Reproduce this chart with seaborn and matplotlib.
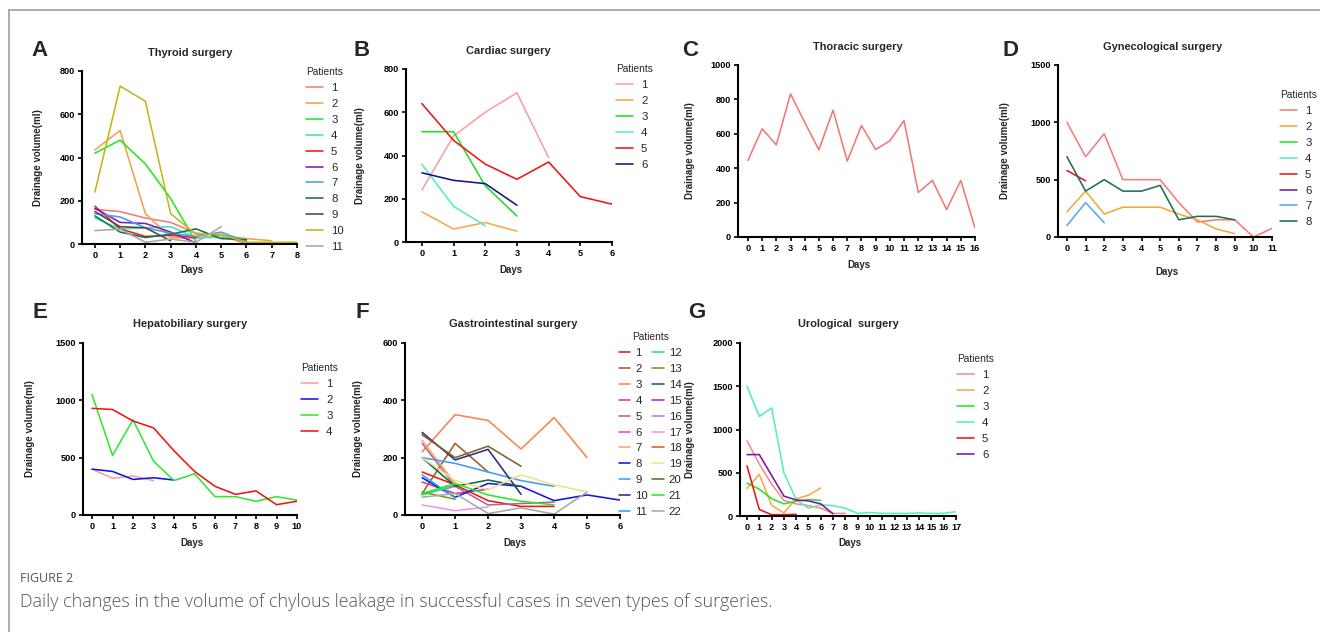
import matplotlib
matplotlib.use("Agg")
import matplotlib.pyplot as plt
import pandas as pd
import seaborn as sns
from matplotlib.lines import Line2D

# ---------------- data ----------------
thyroid_vals = [
    [160, 150, 120, 100, 50, 40, 0],
    [435, 525, 140, 30, 25, 40, 25, 15],
    [420, 480, 370, 210, 10],
    [120, 70, 75, 80, 30, 30, 15],
    [175, 70, 35, 40, 30],
    [165, 100, 95, 55, 5],
    [140, 125, 75, 50, 35, 55, 10],
    [130, 55, 30, 45, 70, 25, 20],
    [150, 80, 75, 15],
    [240, 730, 660, 140, 45, 45, 8, 8, 8],
    [62, 69, 8, 23, 8, 80],
]
thyroid_colors = ['#f47c7c', '#f5a04a', '#22e622', '#3de8b0', '#f21c1c', '#8a16c4',
                  '#4b9cf0', '#15754a', '#4a4a4a', '#c6b41a', '#a8a8a8']

cardiac_vals = [
    [240, 490, 600, 690, 390],
    [140, 60, 90, 50],
    [510, 510, 260, 120],
    [360, 165, 75],
    [640, 470, 360, 290, 370, 210, 175],
    [320, 285, 270, 170],
]
cardiac_colors = ['#f7a0a0', '#f8a850', '#22dd22', '#55f0b8', '#ee1515', '#141480']

thoracic_vals = [445, 629, 536, 832, 667, 507, 737, 441, 648, 509, 559, 677, 259, 329, 159, 329, 52]
thoracic_color = '#f27878'

gyn_vals = [
    [1000, 700, 900, 500, 500, 500, 300, 130, 150, 150, 0, 75],
    [220, 400, 200, 260, 260, 260, 200, 150, 70, 30],
    [],
    [],
    [580, 490],
    [],
    [100, 300, 125],
    [700, 400, 500, 400, 400, 450, 150, 180, 180, 150],
]
gyn_colors = ['#f47c7c', '#f8a838', '#22e622', '#55f0b8', '#ee1515', '#7a14b0', '#5aa8f0', '#1e7050']

hep_vals = [
    [400, 320, 340, 300],
    [400, 380, 310, 325, 305],
    [1050, 520, 830, 470, 300, 360, 160, 160, 120, 160, 130],
    [930, 920, 820, 760, 560, 380, 250, 180, 210, 90, 120],
]
hep_colors = ['#f7a0a0', '#1414e6', '#33e633', '#ee1515']

gi_vals = [
    [150, 105, 50, 30, 30],
    [75, 250, 150],
    [220, 350, 330, 230, 340, 200],
    [115, 75, 90],
    [250, 100, 35, 40, 45],
    [72, 100],
    [260, 110],
    [130, 62, 110, 100, 50, 70, 52],
    [200, 180, 150, 120, 100],
    [288, 192, 229, 72],
    [140, 60],
    [70, 105],
    [80, 55],
    [200, 100, 122, 100],
    [],
    [],
    [35, 15, 28],
    [],
    [200, 120, 88, 140, 105, 81],
    [280, 200, 240, 170],
    [75, 110, 70, 48, 35],
    [62, 75, 5, 25, 3, 80],
]
gi_colors = ['#ee1515', '#a0601c', '#ff8050', '#c84a78', '#b06898', '#ff33ff', '#f8a868',
             '#1414f0', '#3ea0f0', '#2c2c80', '#1eaee0', '#22e690', '#70a014', '#106a44',
             '#a024f0', '#b47ae6', '#f096e6', '#d2641e', '#f0e08c', '#80602c', '#22ee22', '#a8a8a8']

uro_vals = [
    [870, 600, 370, 180, 140, 120, 90, 30, 30],
    [320, 480, 125, 35, 200, 240, 325],
    [380, 310, 200, 140, 170, 190, 180],
    [1500, 1150, 1250, 500, 190, 90, 130, 120, 90, 30, 40, 30, 30, 30, 35, 30, 30, 50],
    [580, 75, 15, 15, 20],
    [710, 710, 470, 230, 185, 175, 140, 25],
]
uro_colors = ['#f48c8c', '#f8a848', '#22e622', '#55f0b8', '#ee1515', '#7a14b0']

# ---------------- style ----------------
sns.set_theme(style="ticks")
plt.rcParams['font.family'] = ['Liberation Sans', 'DejaVu Sans']

W, H = 1320, 632
fig = plt.figure(figsize=(W / 100, H / 100), dpi=100)
fig.patch.set_facecolor('white')

LW = 1.15
TICK_FS = 6.6
LEG_FS = 8.2


def long_df(vals_list):
    rows = []
    for i, vals in enumerate(vals_list):
        for d, v in enumerate(vals):
            rows.append({'patient': str(i + 1), 'day': d, 'vol': v})
    return pd.DataFrame(rows, columns=['patient', 'day', 'vol'])


def panel(px0, px1, py_top, py_bot, vals_list, colors, xmax, xpad, ymax, ystep,
          letter, lxy, title, txy, ylab_x, days_y, legend=None):
    ax = fig.add_axes([px0 / W, 1 - py_bot / H, (px1 - px0) / W, (py_bot - py_top) / H])
    df = long_df(vals_list)
    names = [str(i + 1) for i in range(len(vals_list))]
    pal = dict(zip(names, colors))
    sns.lineplot(data=df, x='day', y='vol', hue='patient', hue_order=names, palette=pal,
                 estimator=None, units='patient', legend=False, linewidth=LW, ax=ax)
    ax.set_xlim(-xpad, xmax)
    ax.set_ylim(0, ymax)
    ax.set_xticks(range(0, xmax + 1))
    ax.set_yticks(range(0, ymax + 1, ystep))
    for s in ['top', 'right']:
        ax.spines[s].set_visible(False)
    for s in ['left', 'bottom']:
        ax.spines[s].set_linewidth(1.5)
        ax.spines[s].set_color('black')
    ax.tick_params(direction='out', length=3.2, width=1.2, labelsize=TICK_FS, pad=2,
                   colors='black')
    for lab in ax.get_xticklabels() + ax.get_yticklabels():
        lab.set_fontweight('bold')
    ax.set_xlabel('')
    ax.set_ylabel('Drainage volume(ml)', fontsize=7.0, fontweight='semibold')
    ax.yaxis.set_label_coords((ylab_x - px0) / (px1 - px0), 0.5)
    ax.grid(False)
    fig.text(lxy[0] / W, 1 - lxy[1] / H, letter, fontsize=16, fontweight='bold',
             ha='center', va='center')
    fig.text(txy[0] / W, 1 - txy[1] / H, title, fontsize=7.9, fontweight='semibold',
             ha='center', va='center')
    fig.text(((px0 + px1) / 2 + 2) / W, 1 - days_y / H, 'Days', fontsize=7.0,
             fontweight='bold', ha='center', va='center')
    if legend is not None:
        lx, ly, ncol = legend
        handles = [Line2D([0], [0], color=c, lw=LW) for c in colors]
        if ncol == 1:
            kw = dict(handlelength=1.5, handletextpad=0.7, columnspacing=0.6,
                      alignment='left')
        else:
            kw = dict(handlelength=1.0, handletextpad=0.45, columnspacing=0.35,
                      alignment='center')
        leg = ax.legend(handles, names, title='Patients', loc='upper left',
                        bbox_to_anchor=(lx / W, 1 - ly / H), bbox_transform=fig.transFigure,
                        frameon=False, fontsize=LEG_FS, title_fontsize=7.3, ncol=ncol,
                        labelspacing=0.52, borderpad=0, borderaxespad=0, **kw)
        return ax, leg
    return ax


panel(82, 297, 71, 244, thyroid_vals, thyroid_colors, 8, 0.51, 800, 200,
      'A', (40, 50), 'Thyroid surgery', (190, 53), 43, 270, legend=(306, 67, 1))
panel(406, 612, 69, 242, cardiac_vals, cardiac_colors, 6, 0.5, 800, 200,
      'B', (362, 50), 'Cardiac surgery', (508, 51), 365, 270, legend=(616, 64, 1))
panel(738, 975, 65, 237, [thoracic_vals], [thoracic_color], 16, 0.7, 1000, 200,
      'C', (690, 50), 'Thoracic surgery', (858, 47), 695, 265)
panel(1058, 1272, 65, 237, gyn_vals, gyn_colors, 11, 0.48, 1500, 500,
      'D', (1010, 50), 'Gynecological surgery', (1163, 47), 1010, 272, legend=(1280, 90, 1))
panel(83, 297, 343, 515, hep_vals, hep_colors, 10, 0.44, 1500, 500,
      'E', (40, 312), 'Hepatobiliary surgery', (190, 324), 35, 543, legend=(301, 363, 1))
panel(405, 620, 343, 515, gi_vals, gi_colors, 6, 0.52, 600, 200,
      'F', (362, 312), 'Gastrointestinal surgery', (513, 324), 363, 543, legend=(619, 332, 2))
panel(740, 956, 343, 516, uro_vals, uro_colors, 17, 0.57, 2000, 500,
      'G', (697, 312), 'Urological  surgery', (848, 324), 695, 543, legend=(957, 354, 1))

# caption
fig.text(20 / W, 1 - 578 / H, 'FIGURE 2', fontsize=9, color='#555555',
         family=['Open Sans', 'DejaVu Sans'], ha='left', va='center')
fig.text(20 / W, 1 - 602 / H,
         'Daily changes in the volume of chylous leakage in successful cases in seven types of surgeries.',
         fontsize=12.9, color='#555555', family=['Open Sans', 'DejaVu Sans'],
         fontweight='light', ha='left', va='center')

# frame
fig.add_artist(Line2D([9 / W, 9 / W], [0, 1 - 10 / H], transform=fig.transFigure,
                      color='#a0a0a0', lw=1.2))
fig.add_artist(Line2D([9 / W, 1], [1 - 10 / H, 1 - 10 / H], transform=fig.transFigure,
                      color='#a0a0a0', lw=1.2))

fig.savefig('out.png', dpi=100)
